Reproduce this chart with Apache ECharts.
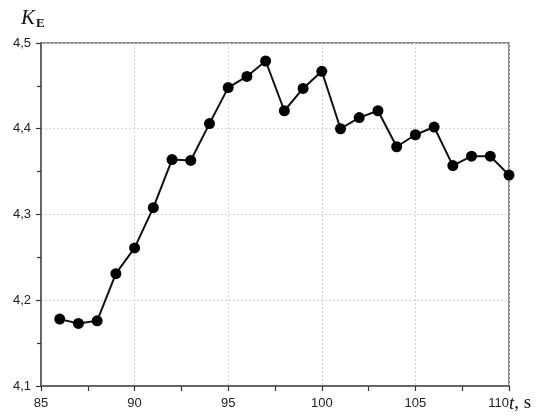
<!DOCTYPE html>
<html>
<head>
<meta charset="utf-8">
<script src="https://cdn.jsdelivr.net/npm/echarts@6/dist/echarts.min.js"></script>
<style>
  html, body { margin: 0; padding: 0; background: #fff; }
  #chart { width: 546px; height: 416px; }
</style>
</head>
<body>
<div id="chart"></div>
<script>
// Time, s
const timeSec = [86, 87, 88, 89, 90, 91, 92, 93, 94, 95, 96, 97, 98, 99, 100,
                 101, 102, 103, 104, 105, 106, 107, 108, 109, 110];
// Coefficient K_E
const kE = [4.178, 4.173, 4.176, 4.231, 4.261, 4.308, 4.364, 4.363, 4.406, 4.448,
            4.461, 4.479, 4.421, 4.447, 4.467, 4.400, 4.413, 4.421, 4.379, 4.393,
            4.402, 4.357, 4.368, 4.368, 4.346];
// Axis ranges
const xRange = [85, 110];
const yRange = [4.1, 4.5];

const chart = echarts.init(document.getElementById('chart'), null, { renderer: 'canvas' });

const labelFont = { fontFamily: 'Liberation Sans, Arial, sans-serif', fontSize: 13, color: '#222' };

chart.setOption({
  animation: false,
  backgroundColor: '#fff',
  grid: {
    left: 41, right: 37, top: 43, bottom: 30,
    show: true, borderColor: '#666', borderWidth: 1.5, backgroundColor: 'transparent'
  },
  xAxis: {
    type: 'value',
    min: xRange[0], max: xRange[1], interval: 5,
    axisLine: { show: true, lineStyle: { color: '#555', width: 1.5 } },
    axisTick: { show: true, inside: false, length: 5, lineStyle: { color: '#333', width: 1.2 } },
    minorTick: { show: true, splitNumber: 2, length: 5, lineStyle: { color: '#333', width: 1.2 } },
    splitLine: { show: true, lineStyle: { color: '#d4d4d4', type: [2, 2], width: 1 } },
    axisLabel: Object.assign({ margin: 11, alignMaxLabel: 'right' }, labelFont)
  },
  yAxis: {
    type: 'value',
    min: yRange[0], max: yRange[1], interval: 0.1,
    axisLine: { show: true, lineStyle: { color: '#555', width: 1.5 } },
    axisTick: { show: true, inside: false, length: 5, lineStyle: { color: '#333', width: 1.2 } },
    minorTick: { show: true, splitNumber: 2, length: 4, lineStyle: { color: '#333', width: 1.2 } },
    splitLine: { show: true, lineStyle: { color: '#d4d4d4', type: [2, 2], width: 1 } },
    axisLabel: Object.assign({
      margin: 10,
      formatter: v => v.toFixed(1).replace('.', ',')
    }, labelFont)
  },
  series: [{
    type: 'line',
    data: timeSec.map((t, i) => [t, kE[i]]),
    symbol: 'circle',
    symbolSize: 11,
    clip: false,
    lineStyle: { color: '#111', width: 2 },
    itemStyle: { color: '#000' },
    z: 5
  }],
  graphic: [
    {
      type: 'text', left: 21, top: 8,
      style: {
        text: '{k|K}{e|E}',
        rich: {
          k: { fontFamily: 'Liberation Serif, Times New Roman, serif', fontStyle: 'italic', fontSize: 21, fill: '#111' },
          e: { fontFamily: 'Liberation Serif, Times New Roman, serif', fontWeight: 'bold', fontSize: 13, fill: '#111', padding: [10, 0, 0, 1] }
        }
      }
    },
    {
      type: 'text', left: 509, top: 394,
      style: {
        text: '{t|t}{s|, s}',
        rich: {
          t: { fontFamily: 'Liberation Serif, Times New Roman, serif', fontStyle: 'italic', fontSize: 19, fill: '#111' },
          s: { fontFamily: 'Liberation Serif, Times New Roman, serif', fontSize: 19, fill: '#111' }
        }
      }
    },
    {
      type: 'text', left: 259, top: -19,
      style: {
        text: '(a)',
        fontFamily: 'Liberation Serif, Times New Roman, serif', fontSize: 18, fill: '#222'
      }
    }
  ]
});
</script>
</body>
</html>
